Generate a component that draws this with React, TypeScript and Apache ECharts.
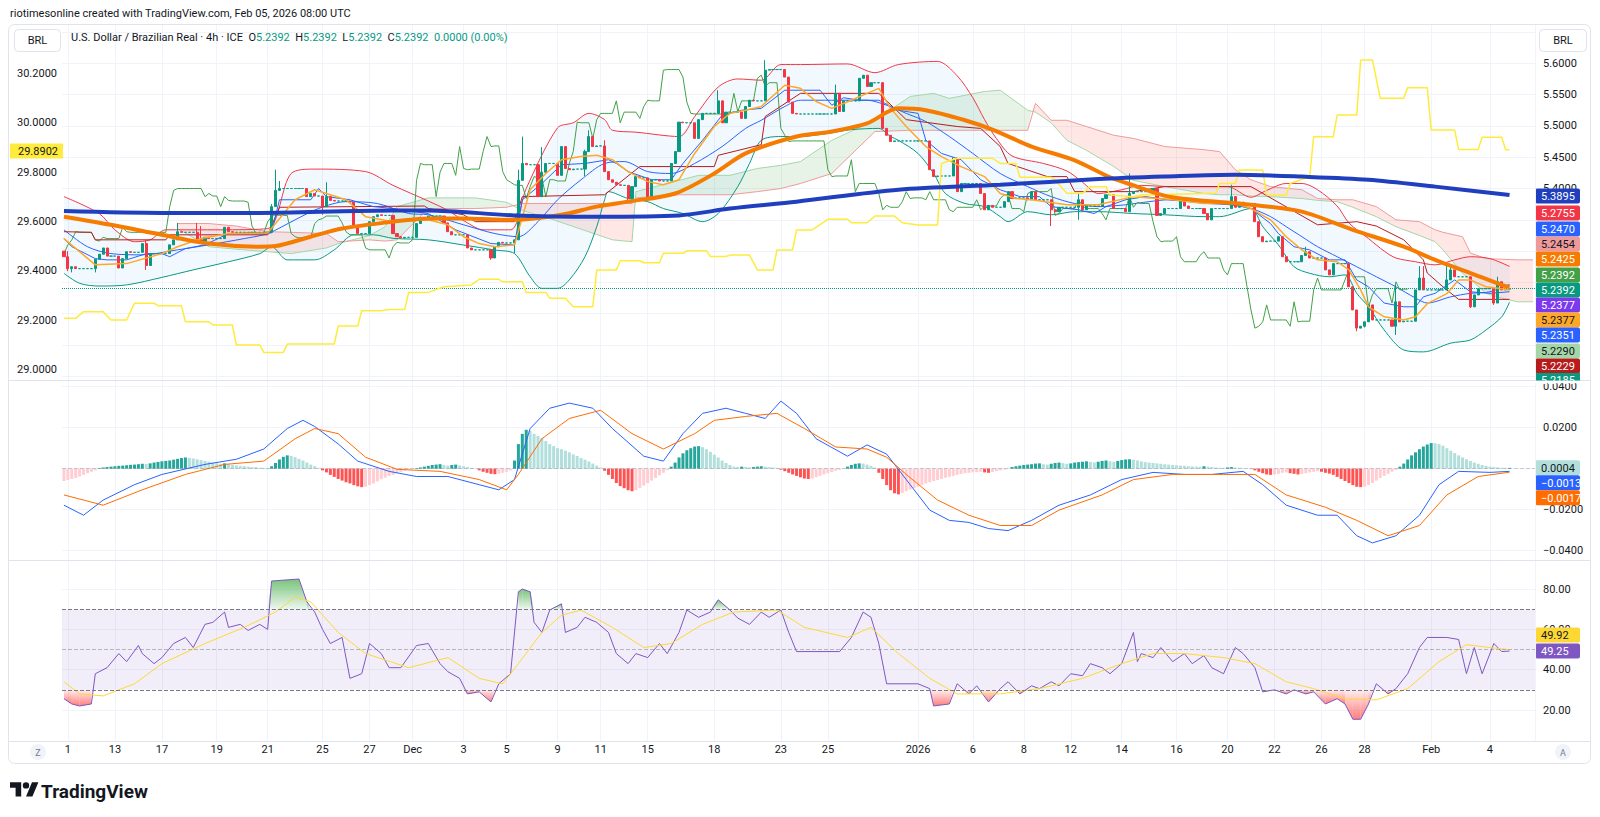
import React, { useEffect, useRef } from "react";
import * as echarts from "echarts";

// ---------------- data ----------------
const N_CATS = 376; // 370 bars + empty space on the right
const closes: number[] = [
  5.291, 5.272, 5.275, 5.272, 5.272, 5.272, 5.272, 5.272, 5.287, 5.295,
  5.305, 5.292, 5.292, 5.292, 5.273, 5.288, 5.299, 5.298, 5.298, 5.298,
  5.312, 5.277, 5.296, 5.296, 5.296, 5.296, 5.296, 5.310, 5.318, 5.331,
  5.330, 5.330, 5.330, 5.330, 5.318, 5.316, 5.322, 5.320, 5.320, 5.320,
  5.320, 5.338, 5.331, 5.330, 5.330, 5.330, 5.330, 5.330, 5.330, 5.330,
  5.330, 5.330, 5.330, 5.371, 5.397, 5.400, 5.400, 5.400, 5.400, 5.400,
  5.400, 5.400, 5.387, 5.392, 5.388, 5.388, 5.371, 5.387, 5.381, 5.380,
  5.380, 5.380, 5.380, 5.378, 5.340, 5.328, 5.328, 5.328, 5.347, 5.355,
  5.358, 5.357, 5.357, 5.357, 5.328, 5.323, 5.321, 5.322, 5.322, 5.322,
  5.344, 5.350, 5.352, 5.356, 5.356, 5.356, 5.356, 5.345, 5.331, 5.326,
  5.326, 5.326, 5.326, 5.305, 5.302, 5.302, 5.302, 5.302, 5.302, 5.289,
  5.307, 5.314, 5.313, 5.313, 5.313, 5.318, 5.413, 5.440, 5.438, 5.438,
  5.438, 5.387, 5.426, 5.440, 5.440, 5.440, 5.421, 5.467, 5.432, 5.430,
  5.431, 5.431, 5.431, 5.459, 5.483, 5.467, 5.468, 5.468, 5.427, 5.414,
  5.410, 5.406, 5.405, 5.405, 5.384, 5.403, 5.419, 5.417, 5.417, 5.387,
  5.414, 5.414, 5.412, 5.412, 5.412, 5.440, 5.459, 5.506, 5.505, 5.505,
  5.505, 5.480, 5.510, 5.520, 5.520, 5.520, 5.520, 5.540, 5.505, 5.522,
  5.522, 5.522, 5.522, 5.512, 5.531, 5.541, 5.540, 5.540, 5.540, 5.589,
  5.590, 5.590, 5.590, 5.590, 5.578, 5.538, 5.520, 5.519, 5.519, 5.519,
  5.519, 5.519, 5.519, 5.519, 5.519, 5.519, 5.519, 5.552, 5.523, 5.540,
  5.540, 5.540, 5.540, 5.576, 5.581, 5.563, 5.569, 5.569, 5.569, 5.496,
  5.485, 5.475, 5.476, 5.476, 5.476, 5.476, 5.476, 5.476, 5.476, 5.476,
  5.476, 5.430, 5.419, 5.420, 5.420, 5.420, 5.420, 5.446, 5.395, 5.408,
  5.408, 5.408, 5.408, 5.408, 5.392, 5.366, 5.373, 5.370, 5.370, 5.370,
  5.379, 5.395, 5.384, 5.385, 5.385, 5.385, 5.382, 5.395, 5.382, 5.382,
  5.382, 5.382, 5.366, 5.363, 5.370, 5.370, 5.370, 5.370, 5.370, 5.382,
  5.366, 5.372, 5.372, 5.372, 5.372, 5.384, 5.390, 5.390, 5.368, 5.368,
  5.368, 5.363, 5.392, 5.395, 5.395, 5.395, 5.395, 5.395, 5.400, 5.357,
  5.360, 5.368, 5.368, 5.368, 5.368, 5.382, 5.372, 5.368, 5.368, 5.368,
  5.368, 5.360, 5.350, 5.368, 5.368, 5.368, 5.368, 5.368, 5.387, 5.370,
  5.378, 5.376, 5.376, 5.376, 5.347, 5.323, 5.315, 5.316, 5.316, 5.316,
  5.323, 5.291, 5.283, 5.283, 5.283, 5.283, 5.293, 5.299, 5.289, 5.289,
  5.289, 5.289, 5.270, 5.262, 5.280, 5.280, 5.280, 5.280, 5.243, 5.206,
  5.177, 5.180, 5.187, 5.214, 5.190, 5.190, 5.190, 5.190, 5.190, 5.180,
  5.219, 5.187, 5.188, 5.188, 5.188, 5.238, 5.257, 5.238, 5.238, 5.238,
  5.238, 5.238, 5.238, 5.254, 5.270, 5.259, 5.259, 5.259, 5.259, 5.211,
  5.230, 5.240, 5.240, 5.240, 5.240, 5.217, 5.251, 5.238, 5.2392, 5.2392,
];
const firstOpen = 5.3;
const wickHighs: [number, number][] = [
  [1, 5.3], [21, 5.318], [29, 5.345], [34, 5.345], [35, 5.34], [53, 5.375], [54, 5.43], [55, 5.412],
  [67, 5.41], [116, 5.43], [117, 5.483], [121, 5.44], [122, 5.466], [133, 5.462], [134, 5.493],
  [138, 5.477], [144, 5.395], [167, 5.557], [179, 5.605], [197, 5.566], [209, 5.57], [227, 5.45],
  [228, 5.45], [252, 5.37], [259, 5.392], [272, 5.424], [298, 5.406], [317, 5.307], [340, 5.246],
  [346, 5.276], [347, 5.276], [353, 5.278], [354, 5.279], [366, 5.259],
];
const wickLows: [number, number][] = [
  [1, 5.268], [2, 5.266], [8, 5.266], [21, 5.27], [35, 5.312], [66, 5.358], [109, 5.286],
  [115, 5.297], [133, 5.42], [144, 5.38], [252, 5.34], [259, 5.35], [330, 5.172], [332, 5.178],
  [340, 5.166], [359, 5.209], [365, 5.214],
];

const ma200: [number, number][] = [
  [0, 5.364], [25, 5.361], [50, 5.361], [75, 5.364], [93, 5.365], [115, 5.357], [136, 5.355],
  [157, 5.357], [170, 5.368], [187, 5.379], [213, 5.398], [239, 5.406], [264, 5.415], [281, 5.419],
  [299, 5.422], [316, 5.419], [333, 5.414], [350, 5.403], [369, 5.3895],
];
const ma50: [number, number][] = [
  [0, 5.355], [12, 5.342], [25, 5.326], [37, 5.312], [50, 5.307], [54, 5.308], [63, 5.323],
  [71, 5.336], [84, 5.347], [93, 5.352], [102, 5.352], [115, 5.35], [127, 5.358], [136, 5.371],
  [144, 5.379], [156, 5.392], [166, 5.424], [174, 5.456], [187, 5.483], [196, 5.491], [205, 5.504],
  [213, 5.528], [220, 5.525], [230, 5.509], [237, 5.494], [247, 5.467], [258, 5.445], [267, 5.418],
  [273, 5.405], [282, 5.387], [303, 5.374], [316, 5.363], [329, 5.334], [342, 5.307], [350, 5.286],
  [359, 5.265], [367, 5.246], [369, 5.2425],
];
const emaFast: [number, number][] = [
  [0, 5.32], [8, 5.278], [16, 5.28], [25, 5.296], [29, 5.307], [35, 5.32], [42, 5.328], [52, 5.329],
  [59, 5.382], [64, 5.398], [72, 5.382], [77, 5.355], [84, 5.347], [93, 5.35], [98, 5.342],
  [102, 5.323], [106, 5.312], [110, 5.307], [115, 5.31], [119, 5.398], [123, 5.424], [127, 5.446],
  [132, 5.451], [136, 5.453], [140, 5.446], [144, 5.427], [149, 5.411], [153, 5.406], [157, 5.414],
  [161, 5.456], [166, 5.499], [170, 5.52], [174, 5.525], [178, 5.531], [184, 5.565], [188, 5.56],
  [192, 5.539], [196, 5.528], [201, 5.541], [205, 5.552], [208, 5.56], [211, 5.528], [215, 5.499],
  [220, 5.467], [224, 5.451], [229, 5.435], [235, 5.419], [239, 5.392], [243, 5.384], [247, 5.382],
  [256, 5.374], [264, 5.374], [273, 5.387], [282, 5.383], [291, 5.376], [299, 5.376], [303, 5.368],
  [308, 5.35], [312, 5.323], [316, 5.302], [320, 5.286], [325, 5.283], [328, 5.27], [331, 5.238],
  [333, 5.211], [337, 5.195], [342, 5.19], [345, 5.195], [348, 5.216], [353, 5.232], [356, 5.254],
  [359, 5.254], [363, 5.243], [367, 5.24], [369, 5.2377],
];
const bbMid: [number, number][] = [
  [0, 5.334], [6, 5.307], [12, 5.296], [20, 5.294], [29, 5.302], [37, 5.31], [46, 5.32], [52, 5.328],
  [59, 5.35], [65, 5.368], [72, 5.379], [80, 5.376], [88, 5.36], [93, 5.358], [102, 5.342],
  [110, 5.328], [116, 5.323], [121, 5.347], [126, 5.382], [132, 5.414], [138, 5.44], [143, 5.443],
  [149, 5.427], [155, 5.424], [161, 5.44], [168, 5.467], [174, 5.496], [178, 5.509], [184, 5.531],
  [188, 5.541], [196, 5.541], [205, 5.541], [210, 5.533], [215, 5.52], [220, 5.507], [226, 5.483],
  [232, 5.456], [239, 5.424], [246, 5.403], [252, 5.387], [258, 5.376], [264, 5.371], [271, 5.374],
  [277, 5.379], [282, 5.382], [295, 5.376], [303, 5.368], [308, 5.355], [312, 5.339], [316, 5.323],
  [320, 5.307], [325, 5.291], [330, 5.275], [335, 5.259], [340, 5.243], [345, 5.225], [348, 5.217],
  [354, 5.227], [359, 5.2325], [364, 5.235], [369, 5.247],
];
const bbUp: [number, number][] = [
  [0, 5.387], [9, 5.36], [13, 5.334], [18, 5.315], [22, 5.318], [26, 5.334], [40, 5.334], [52, 5.336],
  [58, 5.424], [64, 5.431], [77, 5.427], [84, 5.405], [93, 5.38], [98, 5.365], [103, 5.345],
  [107, 5.334], [114, 5.334], [118, 5.4], [126, 5.497], [130, 5.505], [134, 5.52], [138, 5.51],
  [140, 5.493], [146, 5.49], [157, 5.483], [161, 5.515], [167, 5.562], [172, 5.575], [178, 5.573],
  [183, 5.598], [188, 5.598], [200, 5.599], [207, 5.585], [213, 5.598], [223, 5.603], [228, 5.58],
  [232, 5.545], [235, 5.51], [238, 5.48], [242, 5.452], [250, 5.44], [256, 5.428], [260, 5.41],
  [264, 5.392], [270, 5.398], [275, 5.405], [282, 5.403], [297, 5.403], [303, 5.386], [307, 5.397],
  [312, 5.408], [316, 5.408], [320, 5.398], [325, 5.372], [328, 5.345], [333, 5.32], [337, 5.3],
  [340, 5.289], [345, 5.283], [350, 5.278], [355, 5.286], [359, 5.291], [364, 5.288], [369, 5.2755],
];
const bbLo: [number, number][] = [
  [0, 5.2645], [4, 5.2485], [9, 5.2442], [16, 5.246], [25, 5.258], [33, 5.27], [42, 5.283],
  [50, 5.296], [53, 5.307], [57, 5.286], [64, 5.286], [69, 5.302], [74, 5.326], [79, 5.326],
  [84, 5.3204], [93, 5.318], [102, 5.3097], [110, 5.3017], [115, 5.296], [119, 5.259], [122, 5.2405],
  [126, 5.2405], [129, 5.254], [133, 5.291], [136, 5.339], [138, 5.382], [139, 5.395], [144, 5.384],
  [149, 5.379], [153, 5.368], [158, 5.36], [163, 5.347], [167, 5.36], [172, 5.403], [175, 5.44],
  [178, 5.477], [183, 5.483], [188, 5.483], [195, 5.488], [201, 5.494], [208, 5.496], [211, 5.483],
  [213, 5.477], [218, 5.456], [222, 5.424], [225, 5.392], [230, 5.376], [235, 5.371], [239, 5.355],
  [241, 5.347], [246, 5.363], [252, 5.358], [258, 5.363], [264, 5.363], [273, 5.36], [281, 5.358],
  [291, 5.355], [295, 5.355], [303, 5.368], [306, 5.339], [310, 5.31], [314, 5.275], [318, 5.2645],
  [323, 5.259], [327, 5.262], [330, 5.2325], [333, 5.211], [337, 5.174], [342, 5.142], [347, 5.139],
  [354, 5.153], [359, 5.158], [363, 5.174], [367, 5.195], [369, 5.2185],
];
const tenkan: [number, number][] = [
  [0, 5.32], [2, 5.307], [8, 5.288], [11, 5.286], [16, 5.286], [21, 5.296], [25, 5.296], [27, 5.291],
  [31, 5.304], [36, 5.31], [42, 5.328], [47, 5.329], [53, 5.329], [55, 5.382], [63, 5.382], [65, 5.4],
  [67, 5.387], [73, 5.382], [79, 5.371], [84, 5.368], [93, 5.36], [100, 5.334], [109, 5.312],
  [115, 5.31], [117, 5.382], [122, 5.408], [127, 5.438], [133, 5.44], [139, 5.446], [141, 5.44],
  [144, 5.427], [150, 5.414], [155, 5.414], [158, 5.44], [163, 5.477], [168, 5.517], [173, 5.525],
  [178, 5.528], [184, 5.557], [193, 5.557], [196, 5.533], [199, 5.545], [203, 5.541], [208, 5.541],
  [213, 5.525], [218, 5.52], [220, 5.477], [224, 5.456], [229, 5.446], [234, 5.414], [239, 5.398],
  [244, 5.387], [249, 5.387], [252, 5.371], [259, 5.366], [263, 5.36], [266, 5.371], [271, 5.382],
  [276, 5.387], [282, 5.382], [292, 5.376], [299, 5.374], [303, 5.368], [308, 5.344], [310, 5.328],
  [314, 5.307], [318, 5.302], [323, 5.286], [327, 5.286], [330, 5.254], [333, 5.243], [337, 5.217],
  [342, 5.211], [345, 5.211], [347, 5.227], [350, 5.2325], [355, 5.254], [359, 5.235], [364, 5.2325],
  [369, 5.2351],
];
const kijun: [number, number][] = [
  [0, 5.331], [7, 5.33], [8, 5.318], [26, 5.318], [27, 5.326], [52, 5.326], [55, 5.37], [92, 5.372],
  [93, 5.368], [102, 5.358], [105, 5.347], [115, 5.347], [117, 5.387], [138, 5.39], [147, 5.435],
  [166, 5.435], [167, 5.453], [178, 5.47], [179, 5.515], [188, 5.552], [208, 5.552], [215, 5.51],
  [228, 5.499], [234, 5.496], [239, 5.467], [241, 5.44], [251, 5.419], [256, 5.419], [258, 5.395],
  [273, 5.395], [281, 5.403], [303, 5.403], [320, 5.342], [330, 5.347], [335, 5.34], [342, 5.318],
  [347, 5.286], [348, 5.265], [352, 5.243], [356, 5.2229], [369, 5.2229],
];
const chikouShift = 26;
const cloudIdx: number[] = [
  29, 37, 44, 52, 58, 67, 70, 78, 82, 85, 93, 105, 113, 117, 125, 132, 140, 145, 146, 157,
  162, 170, 177, 183, 188, 196, 207, 216, 222, 226, 235, 239, 246, 248, 252, 256, 261, 268, 273, 281,
  291, 295, 299, 303, 308, 316, 320, 325, 329, 335, 340, 346, 350, 352, 357, 359, 363, 367, 371, 375,
];
const spanA: number[] = [
  5.336, 5.307, 5.303, 5.299, 5.296, 5.305, 5.312, 5.325, 5.339, 5.371,
  5.385, 5.385, 5.378, 5.365, 5.35, 5.335, 5.318, 5.315, 5.395, 5.413,
  5.421, 5.421, 5.432, 5.437, 5.443, 5.477, 5.509, 5.547, 5.552, 5.544,
  5.555, 5.557, 5.525, 5.522, 5.505, 5.477, 5.461, 5.435, 5.413, 5.403,
  5.392, 5.39, 5.39, 5.388, 5.387, 5.384, 5.381, 5.379, 5.37, 5.355,
  5.339, 5.325, 5.315, 5.302, 5.2645, 5.255, 5.2325, 5.225, 5.219, 5.219,
];
const spanB: number[] = [
  5.344, 5.344, 5.34, 5.331, 5.33, 5.328, 5.315, 5.318, 5.316, 5.318,
  5.368, 5.368, 5.37, 5.376, 5.376, 5.376, 5.376, 5.376, 5.385, 5.39,
  5.39, 5.39, 5.395, 5.4, 5.408, 5.424, 5.491, 5.493, 5.493, 5.493,
  5.493, 5.493, 5.493, 5.536, 5.509, 5.509, 5.499, 5.485, 5.48, 5.467,
  5.462, 5.459, 5.43, 5.414, 5.403, 5.398, 5.384, 5.382, 5.382, 5.371,
  5.35, 5.347, 5.334, 5.33, 5.323, 5.297, 5.288, 5.287, 5.286, 5.286,
];
// second instrument on the left scale
const leftLine: [number, number][] = [
  [0, 29.208], [3, 29.208], [5, 29.235], [10, 29.235], [12, 29.201], [16, 29.201], [18, 29.269],
  [23, 29.269], [24, 29.259], [30, 29.259], [31, 29.194], [37, 29.194], [38, 29.181], [43, 29.181],
  [44, 29.1], [50, 29.1], [51, 29.07], [56, 29.07], [57, 29.104], [69, 29.104], [70, 29.177],
  [75, 29.177], [76, 29.239], [81, 29.239], [83, 29.244], [87, 29.244], [88, 29.313], [93, 29.313],
  [97, 29.336], [104, 29.343], [106, 29.366], [111, 29.366], [112, 29.356], [117, 29.356],
  [118, 29.313], [123, 29.313], [124, 29.289], [128, 29.289], [130, 29.255], [135, 29.255],
  [136, 29.404], [141, 29.404], [142, 29.441], [147, 29.441], [148, 29.433], [152, 29.433],
  [153, 29.471], [158, 29.471], [159, 29.482], [164, 29.482], [165, 29.458], [169, 29.458],
  [170, 29.464], [175, 29.464], [177, 29.404], [181, 29.404], [182, 29.485], [186, 29.485],
  [187, 29.566], [191, 29.566], [195, 29.609], [200, 29.609], [201, 29.595], [205, 29.595],
  [207, 29.622], [212, 29.622], [214, 29.595], [218, 29.586], [223, 29.586], [224, 29.835],
  [228, 29.856], [237, 29.856], [239, 29.835], [243, 29.835], [244, 29.779], [252, 29.779],
  [253, 29.768], [256, 29.714], [260, 29.714], [262, 29.741], [266, 29.741], [267, 29.707],
  [273, 29.7], [275, 29.707], [294, 29.714], [295, 29.754], [299, 29.754], [300, 29.808],
  [306, 29.808], [307, 29.707], [312, 29.707], [313, 29.754], [318, 29.782], [319, 29.943],
  [324, 29.943], [325, 30.031], [330, 30.031], [331, 30.254], [334, 30.254], [336, 30.099],
  [342, 30.099], [343, 30.142], [348, 30.142], [349, 29.97], [355, 29.97], [356, 29.892],
  [361, 29.892], [362, 29.941], [367, 29.941], [368, 29.8902], [369, 29.8902],
];
const macdLine: [number, number][] = [
  [0, -0.0178], [5, -0.0227], [10, -0.0153], [18, -0.0078], [25, -0.0028], [36, 0.0021], [44, 0.0046],
  [51, 0.0096], [57, 0.0196], [61, 0.0236], [64, 0.0206], [70, 0.0121], [75, 0.0037], [83, -0.0013],
  [90, -0.0038], [98, -0.0038], [106, -0.0078], [111, -0.0103], [115, -0.0053], [119, 0.0196],
  [124, 0.0295], [129, 0.032], [135, 0.0295], [140, 0.0196], [148, 0.0061], [153, 0.0037],
  [158, 0.0171], [163, 0.027], [169, 0.0295], [174, 0.027], [179, 0.0245], [183, 0.033], [187, 0.027],
  [192, 0.0146], [200, 0.0061], [205, 0.0116], [210, 0.0071], [215, -0.0053], [221, -0.0202],
  [226, -0.0252], [231, -0.0262], [236, -0.0292], [241, -0.0302], [247, -0.0252], [254, -0.0178],
  [262, -0.0128], [270, -0.0053], [278, -0.0018], [286, -0.0028], [293, -0.0028], [301, -0.0013],
  [306, -0.0078], [312, -0.0178], [320, -0.0227], [325, -0.0227], [330, -0.0327], [334, -0.0362],
  [340, -0.0327], [346, -0.0227], [351, -0.0078], [356, -0.0013], [364, -0.0018], [369, -0.0013],
];
const signalLine: [number, number][] = [
  [0, -0.0128], [10, -0.0178], [20, -0.0103], [31, -0.0028], [41, 0.0021], [51, 0.0037], [59, 0.0146],
  [64, 0.0196], [70, 0.0171], [77, 0.0056], [85, -0.0003], [96, -0.0013], [106, -0.0053],
  [113, -0.0103], [116, -0.0028], [122, 0.0146], [129, 0.0245], [137, 0.0285], [145, 0.0171],
  [153, 0.0096], [161, 0.0171], [166, 0.0236], [174, 0.0255], [182, 0.027], [189, 0.0196],
  [197, 0.0106], [205, 0.0096], [210, 0.0056], [215, -0.0028], [223, -0.0153], [231, -0.0227],
  [239, -0.0277], [247, -0.0277], [254, -0.0202], [265, -0.0128], [273, -0.0053], [283, -0.0028],
  [296, -0.0028], [304, -0.0028], [312, -0.0128], [322, -0.0188], [330, -0.0252], [338, -0.0327],
  [346, -0.0277], [353, -0.0128], [361, -0.0038], [369, -0.0017],
];
const macdHist: number[] = [
  -0.006, -0.0055, -0.005, -0.0045, -0.0038, -0.003, -0.0022, -0.0015, -0.0008,
  0.0003, 0.0006, 0.0008, 0.001, 0.0012, 0.0014, 0.0015, 0.0017, 0.0019, 0.002, 0.0022, 0.0024,
  0.0023, 0.0026, 0.003, 0.0033, 0.0036, 0.0038, 0.004, 0.0044, 0.0048, 0.0052, 0.0055, 0.0053,
  0.005, 0.0046, 0.0042, 0.0038, 0.0034, 0.003, 0.0027, 0.0024, 0.0026, 0.0022, 0.0019, 0.0016,
  0.0014, 0.0012, 0.001, 0.0008, 0.0007, 0.0005, 0.0004, 0.0003,
  0.0012, 0.0028, 0.0045, 0.0058, 0.0065, 0.0062, 0.0056, 0.0048, 0.004, 0.003, 0.002, 0.0012, 0.0004,
  -0.0008, -0.0018, -0.003, -0.004, -0.005, -0.0058, -0.0066, -0.0072, -0.008, -0.0086, -0.009,
  -0.0088, -0.008, -0.0072, -0.0062, -0.0052, -0.0044, -0.0036, -0.003, -0.0022, -0.0016, -0.001,
  -0.0005, -0.0002, 0.0003, 0.0006, 0.001,
  0.0014, 0.0018, 0.002, 0.0022, 0.0018, 0.0015, 0.0018, 0.002, 0.0016, 0.0012, 0.0008, 0.0004, 0.0001,
  -0.0008, -0.0015, -0.002, -0.0025, -0.0027, -0.0024, -0.002, -0.0015, -0.0008,
  0.004, 0.012, 0.017, 0.019, 0.0185, 0.017, 0.016, 0.015, 0.0135, 0.012, 0.011,
  0.01, 0.0095, 0.0088, 0.008, 0.007, 0.0062, 0.0052, 0.0044, 0.0035, 0.0025, 0.0015, 0.0006,
  -0.001, -0.003, -0.005, -0.007, -0.0085, -0.0095, -0.0105, -0.011, -0.0105, -0.0095, -0.0082,
  -0.007, -0.0058, -0.0045, -0.0032, -0.002, -0.0008,
  0.001, 0.003, 0.0055, 0.0075, 0.009, 0.01, 0.0108, 0.011, 0.0105, 0.0095, 0.0082, 0.0068, 0.0055,
  0.004, 0.0028, 0.0018, 0.001,
  0.0008, 0.001, 0.0009, 0.0007, 0.0008, 0.001, 0.0012, 0.001, 0.0008, 0.0006, 0.0004,
  -0.0005, -0.0012, -0.002, -0.0028, -0.0035, -0.0042, -0.0048, -0.005, -0.0048, -0.0042, -0.0035,
  -0.0028, -0.0022, -0.0016, -0.001, -0.0006, -0.0002,
  0.001, 0.0018, 0.0024, 0.0026, 0.0025, 0.002, 0.0014, 0.0006,
  -0.002, -0.005, -0.008, -0.0105, -0.012, -0.0125, -0.0118, -0.011, -0.0102, -0.0095, -0.0088,
  -0.008, -0.0072, -0.0066, -0.006, -0.0055, -0.005, -0.0044, -0.004, -0.0035, -0.003, -0.0026,
  -0.0022, -0.002, -0.0018, -0.0016,
  -0.0015, -0.0018, -0.002, -0.0016, -0.0012, -0.0008, -0.0005, -0.0002,
  0.0008, 0.0012, 0.0015, 0.0018, 0.002, 0.0022, 0.0025, 0.0026, 0.0022, 0.002, 0.0024, 0.0028,
  0.003, 0.0027, 0.0024, 0.0026, 0.003, 0.0032,
  0.0034, 0.0036, 0.0033, 0.003, 0.0034, 0.0038, 0.004, 0.0036, 0.0034, 0.0038, 0.0042, 0.0045,
  0.0046, 0.0044, 0.004, 0.0036, 0.0032, 0.003,
  0.0028, 0.0026, 0.0024, 0.0022, 0.002, 0.0018, 0.0017, 0.0015, 0.0014, 0.0012, 0.0011, 0.001,
  0.0009, 0.0012, 0.001, 0.0008, 0.0006, 0.0005, 0.0004,
  0.0006, 0.0008, 0.0006, 0.0004, 0.0002, 0.0001, -0.0002,
  -0.0008, -0.0015, -0.0022, -0.0028, -0.003, -0.0028, -0.0025, -0.002, -0.0018, -0.0022, -0.0025,
  -0.0028, -0.0026, -0.0022, -0.0018, -0.0015,
  -0.0012, -0.0015, -0.002, -0.0024, -0.003, -0.004, -0.005, -0.006,
  -0.007, -0.008, -0.0088, -0.009, -0.0088, -0.008, -0.007,
  -0.0058, -0.0045, -0.0035, -0.0025, -0.0015, -0.0006,
  0.001, 0.0025, 0.0045, 0.0065, 0.008, 0.0095, 0.0108, 0.0118, 0.0125,
  0.0124, 0.012, 0.0112, 0.01, 0.0088, 0.0076, 0.0065, 0.0055, 0.0046, 0.0038, 0.003, 0.0024,
  0.0018, 0.0014, 0.001, 0.0008, 0.0006, 0.0005, 0.0004, 0.0004,
];
const rsi: [number, number][] = [
  [0, 25.6], [2, 23], [4, 22], [7, 23], [8, 38], [11, 41], [14, 48], [16, 44], [19, 52], [20, 48],
  [23, 43], [25, 46], [28, 53], [31, 56], [33, 51], [36, 62.5], [38, 63.5], [41, 68.6], [42, 61],
  [45, 62.5], [47, 59.5], [50, 62.5], [52, 60], [53, 84], [60, 85], [62, 73.7], [64, 68.6], [66, 60],
  [68, 53], [71, 56], [73, 35.7], [76, 38], [78, 53], [81, 48], [83, 41], [86, 41], [90, 52], [93, 53],
  [96, 43], [98, 39], [101, 35.7], [103, 28], [106, 29], [109, 24], [111, 33], [114, 38], [116, 78.7],
  [117, 80], [119, 78.7], [120, 63.5], [122, 58.5], [124, 69.6], [127, 72.7], [128, 58.5], [131, 61],
  [133, 66], [136, 63.5], [139, 58.5], [141, 48], [144, 43], [146, 48], [149, 46], [152, 53], [154, 48],
  [157, 58.5], [159, 69.6], [162, 66], [165, 68.6], [167, 74.7], [170, 69.6], [172, 65.6], [175, 62.5],
  [178, 68.6], [180, 66], [183, 69.6], [185, 58.5], [187, 49], [198, 49], [201, 56], [204, 68.6],
  [206, 66], [208, 53], [210, 33], [218, 33], [221, 30.6], [222, 22], [226, 23], [228, 33], [231, 28],
  [233, 32], [236, 24], [239, 30.6], [241, 34], [244, 28], [247, 32], [249, 30.6], [252, 34], [254, 32],
  [257, 38], [260, 37], [262, 43], [265, 41], [267, 38], [270, 43], [273, 58.5], [274, 44], [275, 48],
  [278, 46], [280, 51], [283, 44], [286, 48], [288, 43], [291, 47], [293, 41], [296, 38], [299, 51],
  [301, 48], [304, 41], [306, 29], [309, 30], [312, 28], [314, 30], [317, 28], [319, 29], [322, 23],
  [325, 25.6], [327, 23], [329, 15.4], [331, 15.4], [333, 23], [335, 33], [338, 28], [340, 30.6],
  [343, 38], [346, 51], [348, 56], [353, 56], [356, 55], [358, 38], [360, 51], [362, 38], [365, 53],
  [367, 49], [369, 49.25],
];
const rsiMa: [number, number][] = [
  [0, 34], [4, 28], [10, 27], [18, 33], [25, 43], [36, 53], [46, 61], [54, 68.6], [59, 76], [63, 73.7],
  [70, 58.5], [77, 48], [88, 41], [98, 46], [106, 35.7], [112, 33], [116, 43], [122, 58.5], [127, 67],
  [132, 69.6], [140, 61], [148, 51], [155, 53], [163, 62.5], [171, 68.6], [182, 69.6], [189, 61],
  [200, 56], [206, 61], [213, 48], [221, 35.7], [228, 28], [239, 28], [249, 30.6], [260, 35.7],
  [270, 43], [278, 48], [286, 48], [296, 46], [304, 43], [312, 34], [319, 30.6], [327, 25.6], [335, 25],
  [343, 30.6], [351, 44], [358, 52.4], [364, 51], [369, 49.92],
];
const xLabels: [number, string][] = [
  [1, "1"], [13, "13"], [25, "17"], [39, "19"], [52, "21"], [66, "25"], [78, "27"], [89, "Dec"],
  [102, "3"], [113, "5"], [126, "9"], [137, "11"], [149, "15"], [166, "18"], [183, "23"], [195, "25"],
  [218, "2026"], [232, "6"], [245, "8"], [257, "12"], [270, "14"], [284, "16"], [297, "20"],
  [309, "22"], [321, "26"], [332, "28"], [349, "Feb"], [364, "4"],
];
const lastPrice = 5.2392;
// price-scale ticks that TradingView shows (others sit under the value tags)
const shownRightTicks = ["5.6000", "5.5500", "5.5000", "5.4500", "5.4000"];
const shownMacdTicks = ["0.0400", "0.0200", "\u22120.0200", "\u22120.0400"];

// ---------------- styling / layout ----------------
const FONT = "Roboto, 'Liberation Sans', sans-serif";
const TEXT = "#131722";
const GRIDC = "#f0f3fa";
const BORDER = "#e0e3eb";
const PLOT_L = 62;
const PLOT_W = 1473;

const priceTags = [
  { y: 196, t: "5.3895", bg: "#1f3fbf", fg: "#fff" },
  { y: 213, t: "5.2755", bg: "#F23645", fg: "#fff" },
  { y: 229, t: "5.2470", bg: "#2962FF", fg: "#fff" },
  { y: 244, t: "5.2454", bg: "#EF9A9A", fg: TEXT },
  { y: 259, t: "5.2425", bg: "#F57C00", fg: "#fff" },
  { y: 275, t: "5.2392", bg: "#43A047", fg: "#fff" },
  { y: 290, t: "5.2392", bg: "#089981", fg: "#fff" },
  { y: 305, t: "5.2377", bg: "#7C3AED", fg: "#fff" },
  { y: 320, t: "5.2377", bg: "#FFA726", fg: TEXT },
  { y: 335, t: "5.2351", bg: "#2962FF", fg: "#fff" },
  { y: 351, t: "5.2290", bg: "#A5D6A7", fg: TEXT },
  { y: 366, t: "5.2229", bg: "#B71C1C", fg: "#fff" },
  { y: 467.7, t: "0.0004", bg: "#B2DFDB", fg: TEXT },
  { y: 482.7, t: "\u22120.0013", bg: "#2962FF", fg: "#fff" },
  { y: 497.7, t: "\u22120.0017", bg: "#FF6D00", fg: "#fff" },
  { y: 635, t: "49.92", bg: "#FDD835", fg: TEXT },
  { y: 651, t: "49.25", bg: "#7E57C2", fg: "#fff" },
];

const TV_LOGO = "M14 22H7V11H0V4h14v18zM28 22h-8l7.5-18h8L28 22zM24 8a4 4 0 1 1-8 0a4 4 0 1 1 8 0z";
let logoRegistered = false;

function buildOption(): any {
  const cats = Array.from({ length: N_CATS }, (_, i) => String(i));
  const cats2 = Array.from({ length: N_CATS * 2 }, (_, i) => String(i));
  const labelMap = new Map<number, string>(xLabels);
  const hiMap = new Map<number, number>(wickHighs);
  const loMap = new Map<number, number>(wickLows);

  const candles = closes.map((c, i) => {
    const o = i === 0 ? firstOpen : closes[i - 1];
    const h = Math.max(o, c, hiMap.has(i) ? (hiMap.get(i) as number) : -Infinity);
    const l = Math.min(o, c, loMap.has(i) ? (loMap.get(i) as number) : Infinity);
    return [o, c, l, h];
  });
  const chikou = closes.slice(chikouShift);

  const histData = macdHist.map((v, i) => {
    const p = i === 0 ? v : macdHist[i - 1];
    let color;
    if (v >= 0) color = v >= p ? "#26A69A" : "#B2DFDB";
    else color = v < p ? "#FF5252" : "#FFCDD2";
    return { value: v, itemStyle: { color } };
  });

  const cat = (gridIndex: number, extra: any = {}) => ({
    type: "category",
    gridIndex,
    data: cats,
    boundaryGap: true,
    axisLine: { show: false },
    axisTick: { show: false },
    axisLabel: { show: false },
    splitLine: { show: false },
    ...extra,
  });

  const axisText = { color: TEXT, fontSize: 11, fontFamily: FONT };

  const line = (name: string, data: any, color: string, width: number, extra: any = {}) => ({
    type: "line",
    name,
    data,
    xAxisIndex: 0,
    yAxisIndex: 0,
    showSymbol: false,
    symbol: "none",
    silent: true,
    lineStyle: { color, width },
    z: 3,
    ...extra,
  });

  // Ichimoku cloud fill
  const cloudSeries = {
    type: "custom",
    xAxisIndex: 0,
    yAxisIndex: 0,
    silent: true,
    z: 1,
    clip: true,
    data: [[cloudIdx[0], spanA[0]]],
    encode: { x: 0, y: 1 },
    renderItem: (_p: any, api: any) => {
      const children: any[] = [];
      const green = "rgba(67,160,71,0.13)";
      const red = "rgba(244,67,54,0.13)";
      for (let k = 0; k < cloudIdx.length - 1; k++) {
        const x0 = cloudIdx[k], x1 = cloudIdx[k + 1];
        const a0 = spanA[k], a1 = spanA[k + 1], b0 = spanB[k], b1 = spanB[k + 1];
        const d0 = a0 - b0, d1 = a1 - b1;
        if (d0 * d1 >= 0) {
          children.push({
            type: "polygon",
            shape: { points: [api.coord([x0, a0]), api.coord([x1, a1]), api.coord([x1, b1]), api.coord([x0, b0])] },
            style: { fill: d0 + d1 >= 0 ? green : red },
          });
        } else {
          const t = d0 / (d0 - d1);
          const xc = x0 + t * (x1 - x0);
          const yc = a0 + t * (a1 - a0);
          children.push({
            type: "polygon",
            shape: { points: [api.coord([x0, a0]), api.coord([xc, yc]), api.coord([x0, b0])] },
            style: { fill: d0 > 0 ? green : red },
          });
          children.push({
            type: "polygon",
            shape: { points: [api.coord([xc, yc]), api.coord([x1, a1]), api.coord([x1, b1])] },
            style: { fill: d1 > 0 ? green : red },
          });
        }
      }
      return { type: "group", children };
    },
  };

  // Bollinger band background
  const bbFill = {
    type: "custom",
    xAxisIndex: 0,
    yAxisIndex: 0,
    silent: true,
    z: 1,
    clip: true,
    data: [[bbUp[0][0], bbUp[0][1]]],
    encode: { x: 0, y: 1 },
    renderItem: (_p: any, api: any) => {
      const pts = [...bbUp.map((p) => api.coord(p)), ...bbLo.slice().reverse().map((p) => api.coord(p))];
      return { type: "polygon", shape: { points: pts }, style: { fill: "rgba(33,150,243,0.06)" } };
    },
  };

  // RSI overbought / oversold fills
  const rsiFill = {
    type: "custom",
    xAxisIndex: 3,
    yAxisIndex: 3,
    silent: true,
    z: 2,
    clip: true,
    data: [[rsi[0][0], rsi[0][1]]],
    encode: { x: 0, y: 1 },
    renderItem: (_p: any, api: any) => {
      const children: any[] = [];
      const up = new echarts.graphic.LinearGradient(0, 0, 0, 1, [
        { offset: 0, color: "rgba(76,175,80,0.75)" },
        { offset: 1, color: "rgba(76,175,80,0.1)" },
      ]);
      const dn = new echarts.graphic.LinearGradient(0, 0, 0, 1, [
        { offset: 0, color: "rgba(255,82,82,0.1)" },
        { offset: 1, color: "rgba(255,82,82,0.75)" },
      ]);
      const seg = (th: number, above: boolean, fill: any) => {
        for (let k = 0; k < rsi.length - 1; k++) {
          const [x0, v0] = rsi[k];
          const [x1, v1] = rsi[k + 1];
          const in0 = above ? v0 > th : v0 < th;
          const in1 = above ? v1 > th : v1 < th;
          let pts: number[][] | null = null;
          if (in0 && in1) pts = [[x0, v0], [x1, v1], [x1, th], [x0, th]];
          else if (in0) {
            const xc = x0 + ((v0 - th) / (v0 - v1)) * (x1 - x0);
            pts = [[x0, v0], [xc, th], [x0, th]];
          } else if (in1) {
            const xc = x0 + ((th - v0) / (v1 - v0)) * (x1 - x0);
            pts = [[xc, th], [x1, v1], [x1, th]];
          }
          if (pts) children.push({ type: "polygon", shape: { points: pts.map((p) => api.coord(p)) }, style: { fill } });
        }
      };
      seg(70, true, up);
      seg(30, false, dn);
      return { type: "group", children };
    },
  };

  const graphic: any[] = [
    // frame
    { type: "rect", shape: { x: 8.5, y: 24.5, width: 1582, height: 739, r: 6 }, style: { fill: "none", stroke: BORDER, lineWidth: 1 }, z: 50, silent: true },
    { type: "line", shape: { x1: 9, y1: 380.5, x2: 1590, y2: 380.5 }, style: { stroke: BORDER, lineWidth: 1 }, z: 50 },
    { type: "line", shape: { x1: 9, y1: 560.5, x2: 1590, y2: 560.5 }, style: { stroke: BORDER, lineWidth: 1 }, z: 50 },
    { type: "line", shape: { x1: 9, y1: 741.5, x2: 1590, y2: 741.5 }, style: { stroke: BORDER, lineWidth: 1 }, z: 50 },
    // header
    { type: "text", x: 10, y: 13.5, style: { text: "riotimesonline created with TradingView.com, Feb 05, 2026 08:00 UTC", fill: TEXT, font: `11px ${FONT}`, verticalAlign: "middle" }, z: 60 },
    {
      type: "text", x: 71, y: 37, z: 60,
      style: {
        text: "{a|U.S. Dollar / Brazilian Real \u00b7 4h \u00b7 ICE  O}{v|5.2392}{a|  H}{v|5.2392}{a|  L}{v|5.2392}{a|  C}{v|5.2392}{v|  0.0000 (0.00%)}",
        verticalAlign: "middle",
        rich: {
          a: { fill: TEXT, fontSize: 11, fontFamily: FONT },
          v: { fill: "#089981", fontSize: 11, fontFamily: FONT },
        },
      },
    },
    // BRL boxes
    { type: "rect", shape: { x: 14.5, y: 29.5, width: 46, height: 22, r: 4 }, style: { fill: "#fff", stroke: BORDER }, z: 60 },
    { type: "text", x: 37.5, y: 40.5, style: { text: "BRL", fill: TEXT, font: `11px ${FONT}`, align: "center", verticalAlign: "middle" }, z: 61 },
    { type: "rect", shape: { x: 1539.5, y: 29.5, width: 47, height: 22, r: 4 }, style: { fill: "#fff", stroke: BORDER }, z: 60 },
    { type: "text", x: 1563, y: 40.5, style: { text: "BRL", fill: TEXT, font: `11px ${FONT}`, align: "center", verticalAlign: "middle" }, z: 61 },
    // left scale tag
    { type: "rect", shape: { x: 10, y: 143.5, width: 53, height: 15 }, style: { fill: "#FFEB3B" }, z: 60 },
    { type: "text", x: 18, y: 151, style: { text: "29.8902", fill: TEXT, font: `11px ${FONT}`, verticalAlign: "middle" }, z: 61 },
    // Z / A buttons
    { type: "circle", shape: { cx: 38, cy: 752, r: 8 }, style: { fill: "#f0f3fa" }, z: 60 },
    { type: "text", x: 38, y: 752.5, style: { text: "Z", fill: "#787b86", font: `9px ${FONT}`, align: "center", verticalAlign: "middle" }, z: 61 },
    { type: "circle", shape: { cx: 1563, cy: 752, r: 8 }, style: { fill: "#f0f3fa" }, z: 60 },
    { type: "text", x: 1563, y: 752.5, style: { text: "A", fill: "#787b86", font: `9px ${FONT}`, align: "center", verticalAlign: "middle" }, z: 61 },
    // TradingView brand
    { type: "tvlogo", x: 10, y: 779, scaleX: 0.8, scaleY: 0.8, style: { fill: TEXT }, z: 60 },
    { type: "text", x: 41, y: 791, style: { text: "TradingView", fill: TEXT, font: `bold 19px ${FONT}`, verticalAlign: "middle" }, z: 60 },
  ];
  priceTags.forEach((p) => {
    graphic.push({ type: "rect", shape: { x: 1536, y: p.y - 7.5, width: 44, height: 15, r: [1, 2, 2, 1] }, style: { fill: p.bg }, z: 70 });
    graphic.push({ type: "text", x: 1541, y: p.y + 0.5, style: { text: p.t, fill: p.fg, font: `11px ${FONT}`, verticalAlign: "middle" }, z: 71 });
  });
  // lowest main-pane tag, cut off by the pane border
  graphic.push({ type: "rect", shape: { x: 1536, y: 373, width: 44, height: 7.5 }, style: { fill: "#089981" }, z: 70 });
  graphic.push({ type: "text", x: 1541, y: 380.5, style: { text: "5.2185", fill: "#fff", font: `11px ${FONT}`, verticalAlign: "middle" }, z: 71 });
  graphic.push({ type: "rect", shape: { x: 1535, y: 381, width: 50, height: 2.2 }, style: { fill: "#fff" }, z: 72 });

  return {
    animation: false,
    backgroundColor: "#ffffff",
    textStyle: { fontFamily: FONT },
    grid: [
      { left: PLOT_L, top: 32, width: PLOT_W, height: 344.3 },
      { left: PLOT_L, top: 23.9, width: PLOT_W, height: 395.2 },
      { left: PLOT_L, top: 386.7, width: PLOT_W, height: 164 },
      { left: PLOT_L, top: 568.95, width: PLOT_W, height: 161.2 },
      { left: PLOT_L, top: 24.5, width: PLOT_W, height: 716.5 },
    ],
    xAxis: [
      cat(0),
      cat(1),
      cat(2),
      cat(3, {
        axisLabel: {
          show: true,
          interval: (i: number) => labelMap.has(i),
          formatter: (_v: string, i: number) => labelMap.get(i) || "",
          margin: 14,
          ...axisText,
        },
      }),
      {
        ...cat(4),
        data: cats2,
        splitLine: {
          show: true,
          interval: (j: number) => j % 2 === 1 && labelMap.has((j - 1) / 2),
          lineStyle: { color: GRIDC, width: 1 },
        },
      },
    ],
    yAxis: [
      {
        type: "value", gridIndex: 0, position: "right", min: 5.1, max: 5.65, interval: 0.05,
        axisLine: { show: false }, axisTick: { show: false },
        axisLabel: {
          ...axisText, margin: 8, showMinLabel: false, showMaxLabel: false,
          formatter: (v: number) => (shownRightTicks.indexOf(v.toFixed(4)) >= 0 ? v.toFixed(4) : ""),
        },
        splitLine: { lineStyle: { color: GRIDC } },
      },
      {
        type: "value", gridIndex: 1, position: "left", min: 28.8, max: 30.4, interval: 0.2,
        axisLine: { show: false }, axisTick: { show: false },
        axisLabel: { ...axisText, margin: 5, showMinLabel: false, showMaxLabel: false, formatter: (v: number) => v.toFixed(4) },
        splitLine: { show: false },
      },
      {
        type: "value", gridIndex: 2, position: "right", min: -0.04, max: 0.04, interval: 0.02,
        axisLine: { show: false }, axisTick: { show: false },
        axisLabel: {
          ...axisText, margin: 8,
          formatter: (v: number) => {
            const s = (v < -1e-9 ? "\u2212" : "") + Math.abs(v).toFixed(4);
            return shownMacdTicks.indexOf(s) >= 0 ? s : "";
          },
        },
        splitLine: { lineStyle: { color: GRIDC } },
      },
      {
        type: "value", gridIndex: 3, position: "right", min: 10, max: 90, interval: 10,
        axisLine: { show: false }, axisTick: { show: false },
        axisLabel: {
          ...axisText, margin: 8,
          formatter: (v: number) => ([20, 40, 60, 80].indexOf(Math.round(v)) >= 0 ? v.toFixed(2) : ""),
        },
        splitLine: { lineStyle: { color: ["rgba(0,0,0,0)", GRIDC] } },
      },
      { type: "value", gridIndex: 4, show: false, min: 0, max: 1, splitLine: { show: false } },
    ],
    graphic: { elements: graphic },
    series: [
      cloudSeries,
      bbFill,
      line("Span A", cloudIdx.map((x, k) => [x, spanA[k]]), "#A5D6A7", 1, { z: 2 }),
      line("Span B", cloudIdx.map((x, k) => [x, spanB[k]]), "#EF9A9A", 1, { z: 2 }),
      line("BB upper", bbUp, "#F23645", 1, { smooth: 0.3 }),
      line("BB lower", bbLo, "#089981", 1, { smooth: 0.3 }),
      line("BB basis", bbMid, "#2962FF", 1, { smooth: 0.3 }),
      line("Lagging", chikou, "#43A047", 1),
      line("Base", kijun, "#B71C1C", 1),
      line("Conversion", tenkan, "#2962FF", 1),
      {
        type: "candlestick",
        xAxisIndex: 0,
        yAxisIndex: 0,
        data: candles,
        barWidth: 2.6,
        silent: true,
        z: 4,
        itemStyle: {
          color: "#089981", color0: "#F23645", borderColor: "#089981", borderColor0: "#F23645",
          borderColorDoji: "#089981", borderWidth: 1,
        },
        markLine: {
          silent: true, symbol: "none", label: { show: false },
          lineStyle: { type: "dotted", color: "#089981", width: 1 },
          data: [{ yAxis: lastPrice }],
        },
      },
      line("EMA", emaFast, "#FFA726", 1.5, { z: 5 }),
      line("MA50", ma50, "#F57C00", 4, { smooth: 0.3, z: 6 }),
      line("MA200", ma200, "#1f3fbf", 4, { smooth: 0.3, z: 6 }),
      line("Left", leftLine, "#FFEB3B", 1.5, { xAxisIndex: 1, yAxisIndex: 1, z: 5 }),
      {
        type: "bar",
        xAxisIndex: 2,
        yAxisIndex: 2,
        data: histData,
        barWidth: 3,
        silent: true,
        z: 2,
        markLine: {
          silent: true, symbol: "none", label: { show: false },
          lineStyle: { type: "dashed", color: "rgba(120,123,134,0.35)", width: 1 },
          data: [{ yAxis: 0 }],
        },
      },
      { ...line("MACD", macdLine, "#2962FF", 1), xAxisIndex: 2, yAxisIndex: 2 },
      { ...line("Signal", signalLine, "#FF6D00", 1), xAxisIndex: 2, yAxisIndex: 2 },
      rsiFill,
      {
        ...line("RSI", rsi, "#7E57C2", 1),
        xAxisIndex: 3,
        yAxisIndex: 3,
        markArea: {
          silent: true,
          itemStyle: { color: "rgba(126,87,194,0.1)" },
          data: [[{ yAxis: 30 }, { yAxis: 70 }]],
        },
        markLine: {
          silent: true, symbol: "none", label: { show: false },
          lineStyle: { type: "dashed", color: "#787B86", width: 1 },
          data: [{ yAxis: 70 }, { yAxis: 50, lineStyle: { color: "rgba(120,123,134,0.5)" } }, { yAxis: 30 }],
        },
      },
      { ...line("RSI MA", rsiMa, "#FDD835", 1), xAxisIndex: 3, yAxisIndex: 3 },
    ],
  };
}

export default function App() {
  const ref = useRef<HTMLDivElement>(null);
  useEffect(() => {
    if (!logoRegistered) {
      echarts.graphic.registerShape("tvlogo", (echarts.graphic as any).extendPath(TV_LOGO, {}));
      logoRegistered = true;
    }
    const chart = echarts.init(ref.current as HTMLDivElement, null, { renderer: "svg" });
    chart.setOption(buildOption());
    return () => chart.dispose();
  }, []);
  return (
    <div
      ref={ref}
      style={{ position: "absolute", left: 0, top: 0, width: 1600, height: 817, background: "#fff" }}
    />
  );
}
